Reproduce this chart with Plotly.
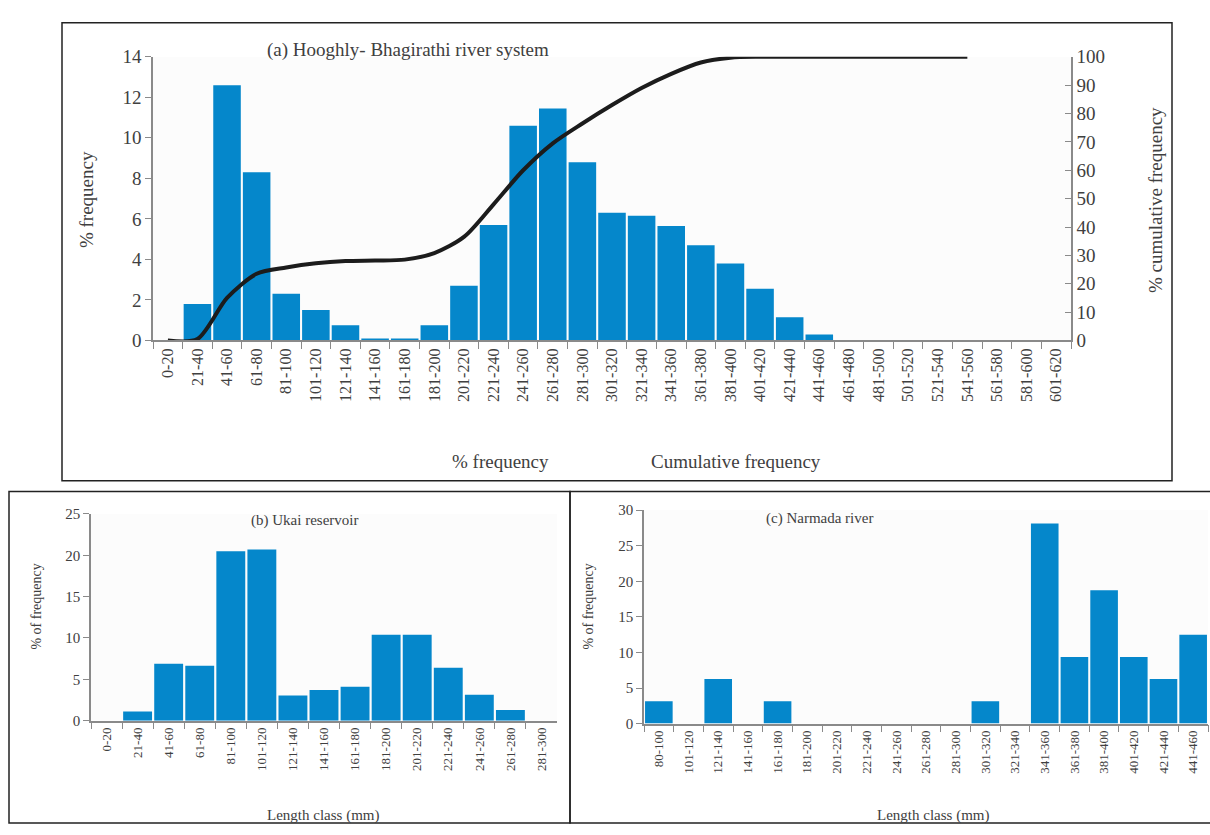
import plotly.graph_objects as go

# ---------------- data ----------------
cats_a = ["0-20", "21-40", "41-60", "61-80", "81-100", "101-120", "121-140", "141-160",
          "161-180", "181-200", "201-220", "221-240", "241-260", "261-280", "281-300",
          "301-320", "321-340", "341-360", "361-380", "381-400", "401-420", "421-440",
          "441-460", "461-480", "481-500", "501-520", "521-540", "541-560", "561-580",
          "581-600", "601-620"]
freq_a = [0, 1.8, 12.6, 8.3, 2.3, 1.5, 0.75, 0.1, 0.1, 0.75, 2.7, 5.7, 10.6, 11.45, 8.8,
          6.3, 6.15, 5.65, 4.7, 3.8, 2.55, 1.15, 0.3, 0, 0, 0, 0, 0, 0, 0, 0]
cum_cats_a = cats_a[:28]
cum_a = [0, 0.5, 15, 23.5, 25.7, 27.2, 28, 28.2, 28.5, 30.8, 36.5, 48, 60, 69.5, 76.5,
         83, 89, 94, 98, 99.7, 100, 100, 100, 100, 100, 100, 100, 100]

cats_b = ["0-20", "21-40", "41-60", "61-80", "81-100", "101-120", "121-140", "141-160",
          "161-180", "181-200", "201-220", "221-240", "241-260", "261-280", "281-300"]
freq_b = [0, 1.1, 6.9, 6.65, 20.5, 20.7, 3.05, 3.7, 4.1, 10.4, 10.4, 6.4, 3.15, 1.3, 0]

cats_c = ["80-100", "101-120", "121-140", "141-160", "161-180", "181-200", "201-220",
          "221-240", "241-260", "261-280", "281-300", "301-320", "321-340", "341-360",
          "361-380", "381-400", "401-420", "421-440", "441-460"]
freq_c = [3.125, 0, 6.25, 0, 3.125, 0, 0, 0, 0, 0, 0, 3.125, 0, 28.125, 9.375, 18.75,
          9.375, 6.25, 12.5]

# ---------------- style ----------------
W, H = 1210, 835
BAR = "#0587CB"
SERIF = "Liberation Serif, Times New Roman, serif"
TXT = "#404040"
AX = "#8a8a8a"

def px(x):
    return x / W

def py(y):
    return 1 - y / H

fig = go.Figure()
fig.add_trace(go.Bar(x=cats_a, y=freq_a, marker=dict(color=BAR, line=dict(width=0)),
                     xaxis="x", yaxis="y", showlegend=False))
fig.add_trace(go.Scatter(x=cum_cats_a, y=cum_a, mode="lines",
                         line=dict(color="#1c1c1c", width=4, shape="spline", smoothing=0.8),
                         xaxis="x", yaxis="y2", showlegend=False))
fig.add_trace(go.Bar(x=cats_b, y=freq_b, marker=dict(color=BAR, line=dict(width=0)),
                     xaxis="x3", yaxis="y3", showlegend=False))
fig.add_trace(go.Bar(x=cats_c, y=freq_c, marker=dict(color=BAR, line=dict(width=0)),
                     xaxis="x4", yaxis="y4", showlegend=False))

xcommon = dict(type="category", showline=True, linecolor=AX, linewidth=1.5,
               ticks="outside", tickson="boundaries", ticklen=7, tickcolor=AX,
               tickangle=-90, showgrid=False, zeroline=False)
ycommon = dict(showline=True, linecolor=AX, linewidth=1.5, ticks="outside",
               ticklen=6, tickcolor=AX, showgrid=False, zeroline=False)

fig.update_layout(
    width=W, height=H,
    margin=dict(l=0, r=0, t=0, b=0),
    paper_bgcolor="white", plot_bgcolor="#fcfcfc",
    bargap=0.07,
    font=dict(family=SERIF, color=TXT),
    xaxis=dict(xcommon, domain=[px(153), px(1071)], anchor="y",
               tickfont=dict(size=16, family=SERIF, color=TXT)),
    yaxis=dict(ycommon, domain=[py(339), py(48)], range=[0, 14], dtick=2,
               tickfont=dict(size=19, family=SERIF, color=TXT), anchor="x"),
    yaxis2=dict(ycommon, overlaying="y", side="right", range=[0, 100], dtick=10,
                ticks="inside", anchor="x",
                tickfont=dict(size=19, family=SERIF, color=TXT)),
    xaxis3=dict(xcommon, domain=[px(91), px(557)], anchor="y3",
                tickfont=dict(size=13, family=SERIF, color=TXT)),
    yaxis3=dict(ycommon, domain=[py(729), py(517)], range=[0, 25], dtick=5,
                anchor="x3", tickfont=dict(size=15, family=SERIF, color=TXT)),
    xaxis4=dict(xcommon, domain=[px(644), px(1208)], anchor="y4",
                tickfont=dict(size=13, family=SERIF, color=TXT)),
    yaxis4=dict(ycommon, domain=[py(732), py(513)], range=[0, 30], dtick=5,
                anchor="x4", tickfont=dict(size=15, family=SERIF, color=TXT)),
)

ann = []
def add_text(text, x, y, size, angle=0):
    ann.append(dict(text=text, x=px(x), y=py(y), xref="paper", yref="paper",
                    showarrow=False, textangle=angle,
                    font=dict(family=SERIF, size=size, color=TXT),
                    xanchor="center", yanchor="middle"))

add_text("(a) Hooghly- Bhagirathi river system", 408, 41, 19)
add_text("% frequency", 86, 195, 19, -90)
add_text("% cumulative frequency", 1155, 195, 19, -90)
add_text("% frequency", 500, 463, 19)
add_text("Cumulative frequency", 736, 463, 19)
add_text("(b) Ukai reservoir", 304, 524, 15)
add_text("% of frequency", 37, 612, 14, -90)
add_text("Length class (mm)", 323, 826, 15)
add_text("(c) Narmada river", 819, 522, 15)
add_text("% of frequency", 589, 612, 14, -90)
add_text("Length class (mm)", 933, 826, 15)
fig.update_layout(annotations=ann)

shapes = [
    dict(type="rect", xref="paper", yref="paper", x0=px(62), x1=px(1172), y0=py(483), y1=py(13),
         line=dict(color="#222", width=1.5)),
    dict(type="rect", xref="paper", yref="paper", x0=px(9), x1=px(570), y0=py(834), y1=py(494),
         line=dict(color="#222", width=1.5)),
    dict(type="rect", xref="paper", yref="paper", x0=px(570), x1=px(1212), y0=py(834), y1=py(494),
         line=dict(color="#222", width=1.5)),
]
fig.update_layout(shapes=shapes)

post = (
    "var gd=document.getElementById('{plot_id}');"
    "document.documentElement.style.margin='0';document.documentElement.style.padding='0';"
    "document.body.style.margin='0';document.body.style.padding='0';"
    "document.documentElement.style.overflow='hidden';document.body.style.overflow='hidden';"
    "gd.style.position='fixed';gd.style.left='0px';gd.style.top='0px';"
)
fig.write_html("out.html", config={"displayModeBar": False}, post_script=post)
